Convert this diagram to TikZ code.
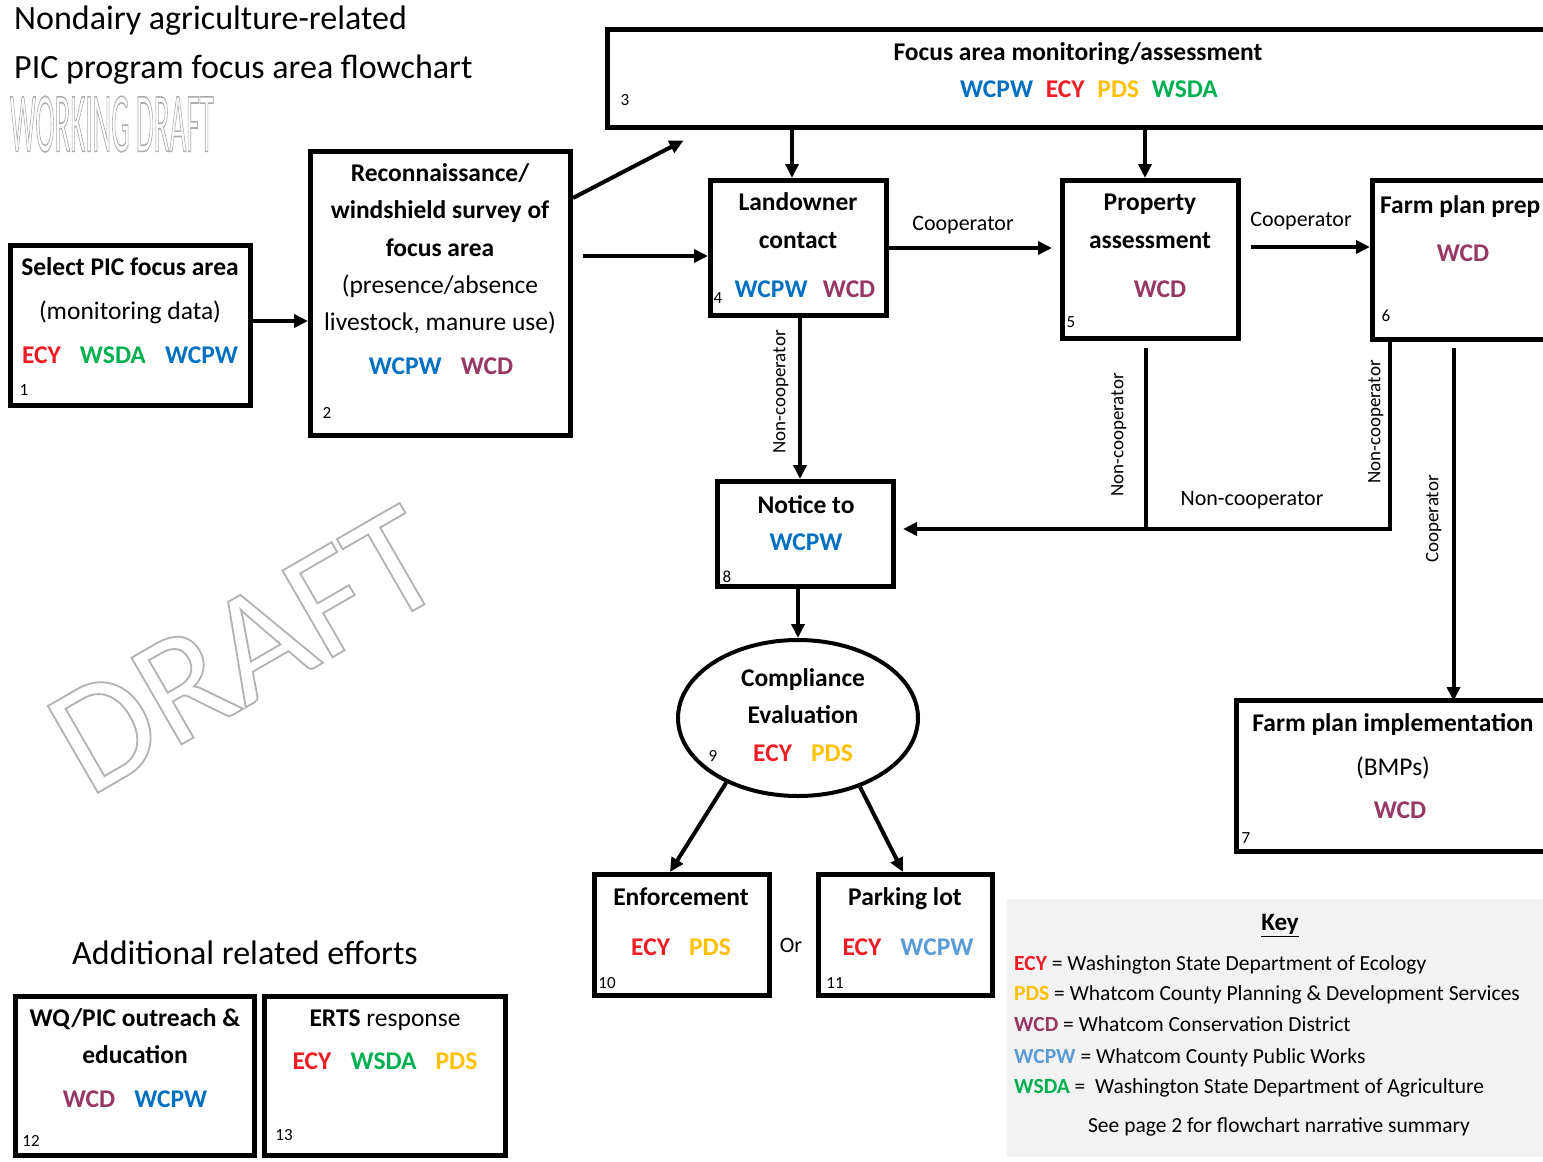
\documentclass[tikz,border=0pt]{standalone}
\usepackage{fontspec}
\setmainfont{Carlito}
\usetikzlibrary{arrows.meta,shapes.geometric}
\definecolor{ecy}{RGB}{238,28,37}
\definecolor{pds}{RGB}{255,192,0}
\definecolor{wcd}{RGB}{150,55,100}
\definecolor{wcpw}{RGB}{0,112,192}
\definecolor{wcpwl}{RGB}{91,155,213}
\definecolor{wsda}{RGB}{0,176,80}
\definecolor{keybg}{RGB}{242,242,242}
\newcommand\fsz[1]{\fontsize{#1}{#1}\selectfont}
\newcommand\ECY{\textcolor{ecy}{ECY}}
\newcommand\PDS{\textcolor{pds}{PDS}}
\newcommand\WCD{\textcolor{wcd}{WCD}}
\newcommand\WCPW{\textcolor{wcpw}{WCPW}}
\newcommand\WCPWl{\textcolor{wcpwl}{WCPW}}
\newcommand\WSDA{\textcolor{wsda}{WSDA}}
\newcommand\gp{\hspace{0.75em}}
\newcommand\outl[2]{\special{pdf:literal direct #1 w 1 Tr}#2\special{pdf:literal direct 0 Tr}}
\tikzset{
  box/.style={draw, line width=5pt, inner sep=0pt},
  arr/.style={line width=4pt, -{Triangle[length=14pt,width=13pt]}},
  ln/.style={line width=4pt},
  bt/.style={font=\fsz{25.5}\bfseries, anchor=mid, inner sep=0pt},
  rt/.style={font=\fsz{25.5}, anchor=mid, inner sep=0pt},
  num/.style={font=\fsz{17}, anchor=mid, inner sep=0pt},
  lab/.style={font=\fsz{22}, anchor=mid, inner sep=0pt},
  vlab/.style={font=\fsz{19}, anchor=mid, inner sep=0pt, rotate=90},
  keyt/.style={font=\fsz{21.5}, anchor=mid west, inner sep=0pt},
}
\begin{document}
\begin{tikzpicture}[x=1pt,y=-1pt]
\useasboundingbox (0,0) rectangle (1543,1162);
\fill[white] (0,0) rectangle (1543,1162);
\clip (0,0) rectangle (1543,1162);

% watermarks
\node[font=\fsz{156}, text=gray!60, rotate=30, inner sep=0pt] (wm) at (245,650) {\outl{1.8}{DRAFT}};
\node[font=\fsz{85}, text=gray!65, xscale=0.34, anchor=mid west, inner sep=0pt] (wd) at (10,149) {\outl{1.6}{WORKING DRAFT}};

% title
\node[font=\fsz{34}, anchor=mid west, inner sep=0pt] (title1) at (14,27) {Nondairy agriculture-related};
\node[font=\fsz{34}, anchor=mid west, inner sep=0pt] (title2) at (14,76) {PIC program focus area flowchart};

% boxes
\node[box, minimum width=240, minimum height=160] (n1) at (130.5,325.5) {};
\node[box, minimum width=260, minimum height=284] (n2) at (440.5,293.5) {};
\node[box, minimum width=992, minimum height=98] (n3) at (1103.5,78.5) {};
\node[box, minimum width=176, minimum height=135] (n4) at (798.5,248) {};
\node[box, minimum width=176, minimum height=158] (n5) at (1150.5,259.5) {};
\node[box, minimum width=228, minimum height=159] (n6) at (1486.5,260) {};
\node[box, minimum width=363, minimum height=151] (n7) at (1418,776) {};
\node[box, minimum width=176, minimum height=105] (n8) at (805.5,534) {};
\node[draw, ellipse, line width=4pt, inner sep=0pt, minimum width=240, minimum height=156] (n9) at (798,718) {};
\node[box, minimum width=175, minimum height=121] (n10) at (682,935) {};
\node[box, minimum width=174, minimum height=121] (n11) at (905.5,935) {};
\node[box, minimum width=239, minimum height=159] (n12) at (135,1076) {};
\node[box, minimum width=241, minimum height=159] (n13) at (385,1076) {};
\node[fill=keybg, minimum width=536, minimum height=258, inner sep=0pt] (key) at (1275,1028) {};

% box 1
\node[bt] (t1a) at (130,273) {Select PIC focus area};
\node[rt] (t1b) at (130,317) {(monitoring data)};
\node[bt] (t1c) at (130,361) {\ECY\gp\WSDA\gp\WCPW};
\node[num] (t1n) at (24,393.5) {1};
% box 2
\node[bt] (t2a) at (440,179) {Reconnaissance/};
\node[bt] (t2b) at (440,216) {windshield survey of};
\node[bt] (t2c) at (440,254) {focus area};
\node[rt] (t2d) at (440,291) {(presence/absence};
\node[rt] (t2e) at (440,328) {livestock, manure use)};
\node[bt] (t2f) at (441,372) {\WCPW\gp\WCD};
\node[num] (t2n) at (327,416.5) {2};
% box 3
\node[bt] (t3a) at (1078,58) {Focus area monitoring/assessment};
\node[bt] (t3b) at (1089,95) {\WCPW\hspace{0.5em}\ECY\hspace{0.5em}\PDS\hspace{0.5em}\WSDA};
\node[num] (t3n) at (625,103.5) {3};
% box 4
\node[bt] (t4a) at (798,208) {Landowner};
\node[bt] (t4b) at (798,246) {contact};
\node[bt] (t4c) at (805,295) {\WCPW\hspace{0.6em}\WCD};
\node[num] (t4n) at (718,301.5) {4};
% box 5
\node[bt] (t5a) at (1150,208) {Property};
\node[bt] (t5b) at (1150,246) {assessment};
\node[bt] (t5c) at (1160,295) {\WCD};
\node[num] (t5n) at (1071,325.5) {5};
% box 6
\node[bt, anchor=mid west] (t6a) at (1380,211) {Farm plan prep};
\node[bt] (t6b) at (1463,259) {\WCD};
\node[num] (t6n) at (1386,319.5) {6};
% box 7
\node[bt] (t7a) at (1393,729) {Farm plan implementation};
\node[rt] (t7b) at (1393,773) {(BMPs)};
\node[bt] (t7c) at (1400,816) {\WCD};
\node[num] (t7n) at (1246,841.5) {7};
% box 8
\node[bt] (t8a) at (806,511) {Notice to};
\node[bt] (t8b) at (806,548) {\WCPW};
\node[num] (t8n) at (727,580.5) {8};
% ellipse 9
\node[bt] (t9a) at (803,684) {Compliance};
\node[bt] (t9b) at (803,721) {Evaluation};
\node[bt] (t9c) at (803,759) {\ECY\gp\PDS};
\node[num] (t9n) at (713,759.5) {9};
% box 10
\node[bt] (t10a) at (681,903) {Enforcement};
\node[bt] (t10b) at (681,953) {\ECY\gp\PDS};
\node[num] (t10n) at (607,986.5) {10};
% box 11
\node[bt] (t11a) at (905,903) {Parking lot};
\node[bt] (t11b) at (908,953) {\ECY\gp\WCPWl};
\node[num] (t11n) at (835,986.5) {11};
\node[lab] (or) at (791,950.5) {Or};
% additional efforts
\node[font=\fsz{34}, anchor=mid, inner sep=0pt] (add) at (245,962) {Additional related efforts};
\node[bt] (t12a) at (135,1024) {WQ/PIC outreach \&};
\node[bt] (t12b) at (135,1061) {education};
\node[bt] (t12c) at (135,1105) {\WCD\gp\WCPW};
\node[num] (t12n) at (31,1144.5) {12};
\node[rt] (t13a) at (385,1024) {\textbf{ERTS} response};
\node[bt] (t13b) at (385,1067) {\ECY\gp\WSDA\gp\PDS};
\node[num] (t13n) at (284,1138.5) {13};

% key
\node[font=\fsz{25}\bfseries, anchor=mid, inner sep=0pt] (keyh) at (1280,928) {\underline{Key}};
\node[keyt] (k1) at (1014,968.5) {\textbf{\ECY} = Washington State Department of Ecology};
\node[keyt] (k2) at (1014,998.5) {\textbf{\PDS} = Whatcom County Planning \& Development Services};
\node[keyt] (k3) at (1014,1029.5) {\textbf{\WCD} = Whatcom Conservation District};
\node[keyt] (k4) at (1014,1061.5) {\textbf{\WCPWl} = Whatcom County Public Works};
\node[keyt] (k5) at (1014,1091.5) {\textbf{\WSDA} =\ \ Washington State Department of Agriculture};
\node[font=\fsz{21.5}, anchor=mid, inner sep=0pt] (k6) at (1279,1130.5) {See page 2 for flowchart narrative summary};

% connectors
\draw[arr] ([yshift=4.5pt]n1.east) -- ([yshift=4.5pt]n1.east -| n2.west);
\draw[arr] ([yshift=95.5pt]n2.east) -- ([shift={(78.5pt,-10.5pt)}]n3.south west);
\coordinate (a24) at ([shift={(10pt,37.5pt)}]n2.east);
\draw[arr] (a24) -- (a24 -| n4.west);
\draw[arr] ([xshift=-6.5pt]n4.north |- n3.south) -- ([xshift=-6.5pt]n4.north);
\draw[arr] ([xshift=-5.5pt]n5.north |- n3.south) -- ([xshift=-5.5pt]n5.north);
\draw[arr, shorten >=8pt] (n4.east) -- (n4.east -| n5.west);
\node[lab] (c45) at (963,228.5) {Cooperator};
\coordinate (a56) at ([shift={(10pt,12.5pt)}]n5.east);
\draw[arr] (a56) -- (a56 -| n6.west);
\node[lab] (c56) at (1301,224.5) {Cooperator};
\draw[arr] ([xshift=1.5pt]n4.south) -- ([xshift=1.5pt]n4.south |- n8.north);
\node[vlab] (nc48) at (783,392) {Non-cooperator};
\coordinate (m8) at ([yshift=5pt]n8.east);
\draw[arr, shorten >=7pt] ([xshift=19.5pt]n6.south west) |- (m8);
\draw[ln] ([shift={(-4.5pt,-7pt)}]n5.south) -- ([xshift=-4.5pt]n5.south |- m8);
\node[vlab] (nc58) at (1121,435) {Non-cooperator};
\node[vlab] (nc68) at (1378,422) {Non-cooperator};
\node[lab] (nch) at (1252,503.5) {Non-cooperator};
\draw[arr, shorten >=3pt] ([shift={(83.5pt,-6pt)}]n6.south west) -- ([shift={(83.5pt,-6pt)}]n6.south west |- n7.north);
\node[vlab] (c67) at (1436,519) {Cooperator};
\draw[arr] (n9.north |- n8.south) -- (n9.north);
\draw[arr] (n9.222) -- ([xshift=-12pt]n10.north);
\draw[arr] (n9.312) -- ([xshift=-2.5pt]n11.north);
\end{tikzpicture}
\end{document}
